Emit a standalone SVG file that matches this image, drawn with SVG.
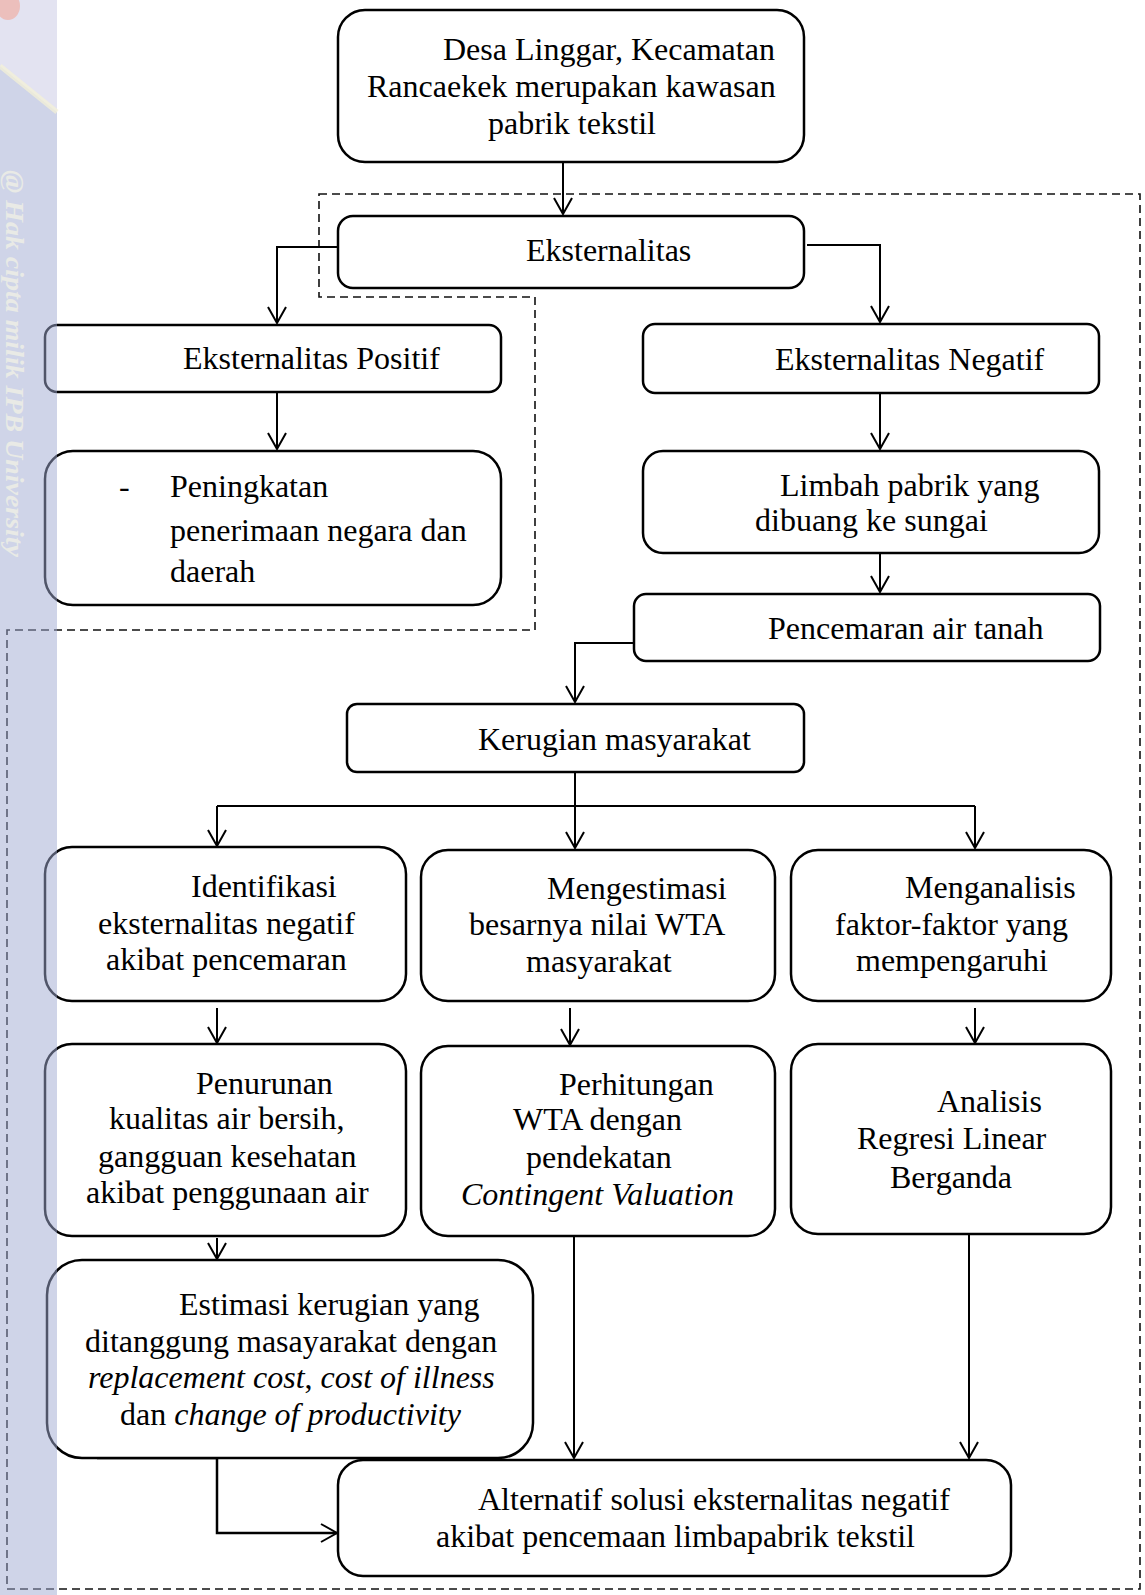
<svg xmlns="http://www.w3.org/2000/svg" width="1145" height="1595" viewBox="0 0 1145 1595">
<style>
.box{fill:#fff;stroke:#000;stroke-width:2.5}
.t{font-family:"Liberation Serif","Times New Roman",serif;font-size:32px;fill:#000}
.i{font-style:italic}
.c{fill:none;stroke:#000;stroke-width:2}
.dash{fill:none;stroke:#111;stroke-width:1.6;stroke-dasharray:8 5}
</style>
<defs>
<marker id="arr" viewBox="-18 -11 20 22" markerWidth="20" markerHeight="22" refX="0" refY="0" orient="auto" markerUnits="userSpaceOnUse">
<path d="M-16,-9 L0,0 L-16,9" fill="none" stroke="#000" stroke-width="2"/>
</marker>
</defs>
<rect width="1145" height="1595" fill="#fff"/>
<path class="dash" d="M319,194 H1140 V1589 H7 V630 H535 V297 H319 Z"/>
<g id="connectors">
<path class="c" d="M563,162 V214" marker-end="url(#arr)"/>
<path class="c" d="M338,247 H277 V323" marker-end="url(#arr)"/>
<path class="c" d="M807,245 H880 V322" marker-end="url(#arr)"/>
<path class="c" d="M277,392 V449" marker-end="url(#arr)"/>
<path class="c" d="M880,393 V449" marker-end="url(#arr)"/>
<path class="c" d="M880,553 V592" marker-end="url(#arr)"/>
<path class="c" d="M634,643 H575 V702" marker-end="url(#arr)"/>
<path class="c" d="M575,772 V848" marker-end="url(#arr)"/>
<path class="c" d="M217,806 H975"/>
<path class="c" d="M217,806 V846" marker-end="url(#arr)"/>
<path class="c" d="M975,806 V848" marker-end="url(#arr)"/>
<path class="c" d="M217,1008 V1043" marker-end="url(#arr)"/>
<path class="c" d="M570,1008 V1045" marker-end="url(#arr)"/>
<path class="c" d="M975,1008 V1043" marker-end="url(#arr)"/>
<path class="c" d="M217,1238 V1259" marker-end="url(#arr)"/>
<path class="c" d="M574,1236 V1458" marker-end="url(#arr)"/>
<path class="c" d="M969,1234 V1458" marker-end="url(#arr)"/>
<path class="c" d="M97,1458 H217 V1533 H337" marker-end="url(#arr)" style="stroke-width:2.5"/>
</g>
<g id="n1"><rect class="box" x="338" y="10" width="466" height="152" rx="27"/>
<text class="t"><tspan x="443" y="60">Desa Linggar, Kecamatan</tspan><tspan x="367" y="97">Rancaekek merupakan kawasan</tspan><tspan x="488" y="134">pabrik tekstil</tspan></text></g>
<g id="n2"><rect class="box" x="338" y="216" width="466" height="72" rx="15"/>
<text class="t" x="526" y="261">Eksternalitas</text></g>
<g id="n3"><rect class="box" x="45" y="325" width="456" height="67" rx="12"/>
<text class="t" x="183" y="369">Eksternalitas Positif</text></g>
<g id="n4"><rect class="box" x="45" y="451" width="456" height="154" rx="28"/>
<text class="t"><tspan x="119" y="497">-</tspan><tspan x="170" y="497">Peningkatan</tspan><tspan x="170" y="541">penerimaan negara dan</tspan><tspan x="170" y="582">daerah</tspan></text></g>
<g id="n5"><rect class="box" x="643" y="324" width="456" height="69" rx="12"/>
<text class="t" x="775" y="370">Eksternalitas Negatif</text></g>
<g id="n6"><rect class="box" x="643" y="451" width="456" height="102" rx="20"/>
<text class="t"><tspan x="780" y="496">Limbah pabrik yang</tspan><tspan x="755" y="531">dibuang ke sungai</tspan></text></g>
<g id="n7"><rect class="box" x="634" y="594" width="466" height="67" rx="12"/>
<text class="t" x="768" y="639">Pencemaran air tanah</text></g>
<g id="n8"><rect class="box" x="347" y="704" width="457" height="68" rx="10"/>
<text class="t" x="478" y="750">Kerugian masyarakat</text></g>
<g id="n9"><rect class="box" x="45" y="847" width="361" height="154" rx="27"/>
<text class="t"><tspan x="191" y="897">Identifikasi</tspan><tspan x="98" y="934">eksternalitas negatif</tspan><tspan x="106" y="970">akibat pencemaran</tspan></text></g>
<g id="n10"><rect class="box" x="421" y="850" width="354" height="151" rx="27"/>
<text class="t"><tspan x="547" y="899">Mengestimasi</tspan><tspan x="469" y="935">besarnya nilai WTA</tspan><tspan x="526" y="972">masyarakat</tspan></text></g>
<g id="n11"><rect class="box" x="791" y="850" width="320" height="151" rx="27"/>
<text class="t"><tspan x="905" y="898">Menganalisis</tspan><tspan x="835" y="935">faktor-faktor yang</tspan><tspan x="856" y="971">mempengaruhi</tspan></text></g>
<g id="n12"><rect class="box" x="45" y="1044" width="361" height="192" rx="27"/>
<text class="t"><tspan x="196" y="1094">Penurunan</tspan><tspan x="109" y="1129">kualitas air bersih,</tspan><tspan x="98" y="1167">gangguan kesehatan</tspan><tspan x="86" y="1203">akibat penggunaan air</tspan></text></g>
<g id="n13"><rect class="box" x="421" y="1046" width="354" height="190" rx="27"/>
<text class="t"><tspan x="559" y="1095">Perhitungan</tspan><tspan x="513" y="1130">WTA dengan</tspan><tspan x="526" y="1168">pendekatan</tspan><tspan class="i" x="461" y="1205">Contingent Valuation</tspan></text></g>
<g id="n14"><rect class="box" x="791" y="1044" width="320" height="190" rx="27"/>
<text class="t"><tspan x="937" y="1112">Analisis</tspan><tspan x="857" y="1149">Regresi Linear</tspan><tspan x="890" y="1188">Berganda</tspan></text></g>
<g id="n15"><rect class="box" x="47" y="1260" width="486" height="198" rx="35"/>
<text class="t"><tspan x="179" y="1315">Estimasi kerugian yang</tspan><tspan x="85" y="1352">ditanggung masayarakat dengan</tspan><tspan x="88" y="1388"><tspan class="i">replacement cost</tspan>, <tspan class="i">cost of illness</tspan></tspan><tspan x="120" y="1425">dan <tspan class="i">change of productivity</tspan></tspan></text></g>
<g id="n16"><rect class="box" x="338" y="1460" width="673" height="116" rx="25"/>
<text class="t"><tspan x="478" y="1510">Alternatif solusi eksternalitas negatif</tspan><tspan x="436" y="1547">akibat pencemaan limbapabrik tekstil</tspan></text></g>
<g id="watermark">
<polygon points="0,0 57,0 57,112 0,66" fill="rgb(200,200,228)" opacity="0.5"/>
<polygon points="0,66 57,112 57,1595 0,1595" fill="rgb(160,169,209)" opacity="0.5"/>
<ellipse cx="8" cy="6" rx="12" ry="14" fill="#f2a79a" opacity="0.6"/>
<line x1="0" y1="66" x2="57" y2="112" stroke="#f6f3d6" stroke-width="5" opacity="0.7"/>
<text x="6" y="170" transform="rotate(90 6 170)" textLength="387" lengthAdjust="spacingAndGlyphs" font-family="Liberation Serif, serif" font-size="25" font-weight="bold" font-style="italic" fill="#f4f4e6" opacity="0.7">@ Hak cipta milik IPB University</text>
</g>
</svg>
